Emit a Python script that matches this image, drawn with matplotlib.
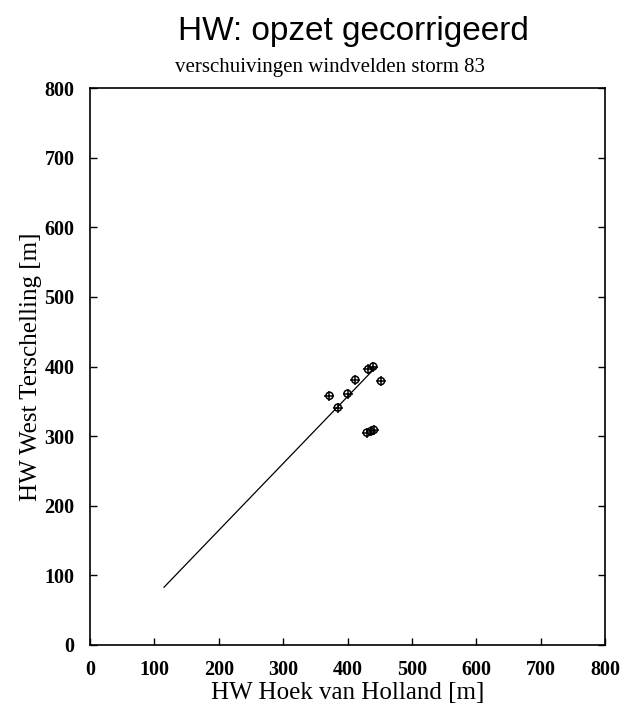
import numpy as np
import matplotlib
matplotlib.use("Agg")
import matplotlib.pyplot as plt

# HW Hoek van Holland vs HW West Terschelling, storm 83 wind field shifts
hw_hoek = [372, 385, 400, 412, 432, 440, 452, 430, 436, 441]
hw_west = [358, 341, 361, 381, 396, 400, 379, 305, 307, 309]

# fitted relation
fit_x = [115, 445]
fit_y = [83, 400]

ticks = [0, 100, 200, 300, 400, 500, 600, 700, 800]

fig = plt.figure(figsize=(6.35, 7.07), dpi=100)
ax = fig.add_axes([0.1417, 0.0877, 0.8111, 0.7878])

ax.plot(fit_x, fit_y, color="black", lw=0.9)
ax.scatter(hw_hoek, hw_west, s=26, facecolors="none", edgecolors="black",
           linewidths=1.1, zorder=3)
ax.scatter(hw_hoek, hw_west, s=48, marker="+", color="black",
           linewidths=1.1, zorder=3)

ax.set_xlim(0, 800)
ax.set_ylim(0, 800)
ax.set_xticks(ticks)
ax.set_yticks(ticks)
ax.tick_params(direction="in", length=5, width=1, labelsize=14.5,
               right=True, top=False, pad=11)
for lab in ax.get_xticklabels() + ax.get_yticklabels():
    lab.set_family("Liberation Serif")
    lab.set_fontweight("bold")
for sp in ax.spines.values():
    sp.set_linewidth(1.2)

ax.set_xlabel("HW Hoek van Holland [m]", family="Liberation Serif",
              fontsize=18, labelpad=1)
ax.set_ylabel("HW West Terschelling [m]", family="Liberation Serif",
              fontsize=18, labelpad=2)

fig.text(0.556, 0.955, "HW: opzet gecorrigeerd", ha="center", va="center",
         family="Liberation Sans", fontsize=24)
fig.text(0.52, 0.905, "verschuivingen windvelden storm 83", ha="center",
         va="center", family="Liberation Serif", fontsize=15)

fig.savefig("out.png", dpi=100)
